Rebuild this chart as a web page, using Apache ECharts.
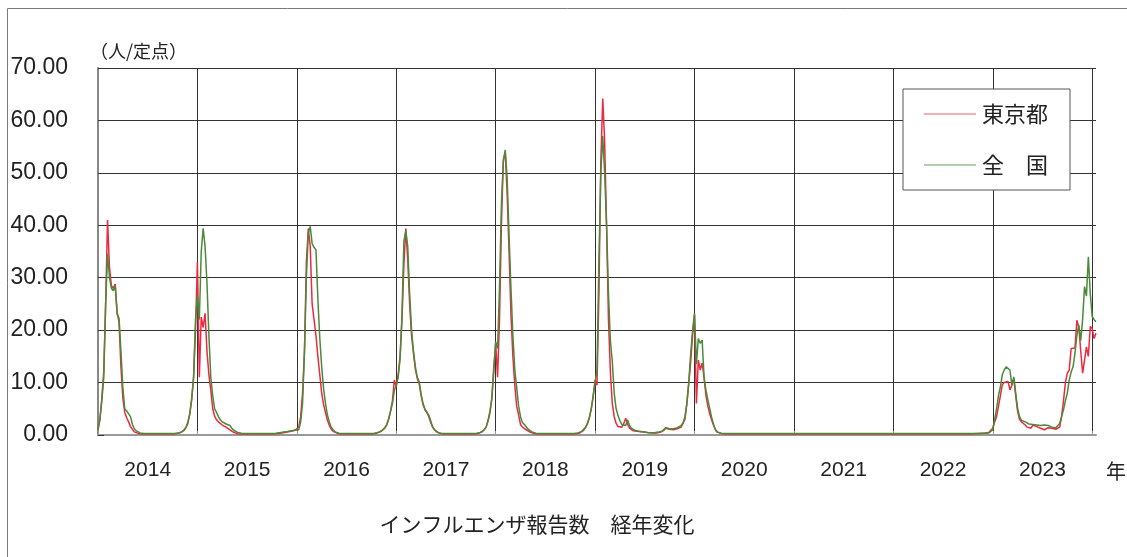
<!DOCTYPE html>
<html>
<head>
<meta charset="utf-8">
<script src="https://cdn.jsdelivr.net/npm/echarts@6/dist/echarts.min.js"></script>
<style>
html,body{margin:0;padding:0;background:#fff;}
#chart{width:1127px;height:557px;}
</style>
</head>
<body>
<div id="chart"></div>
<script>
const years = ['2014','2015','2016','2017','2018','2019','2020','2021','2022','2023'];
const yTicks = [0,10,20,30,40,50,60,70];

const tokyo2014 = [
1.0, 3, 6.5, 11, 25, 41, 32, 28.5, 28, 28.8,
23.5, 21.5, 13, 7, 4.3, 3.3, 2.5, 1.6, 1.1, 0.6,
0.4, 0.3, 0.25, 0.2, 0.2, 0.2, 0.2, 0.2, 0.2, 0.2,
0.2, 0.2, 0.2, 0.2, 0.2, 0.2, 0.2, 0.2, 0.2, 0.2,
0.25, 0.3, 0.35, 0.45, 0.6, 0.9, 1.4, 2.2, 4, 6.7,
11, 20];
const zenkoku2014 = [
1.0, 3, 7, 12, 25, 34.6, 30, 28, 27.5, 28.5,
23, 22.3, 16, 9, 5, 4.6, 4.4, 3.5, 2, 1.2,
0.8, 0.5, 0.4, 0.35, 0.3, 0.3, 0.3, 0.3, 0.3, 0.3,
0.3, 0.3, 0.3, 0.3, 0.3, 0.3, 0.3, 0.3, 0.3, 0.3,
0.3, 0.35, 0.4, 0.5, 0.6, 1.0, 1.5, 2.5, 4, 7,
11, 22];
const tokyo2015 = [
33, 11, 22.5, 20.5, 23.2, 16, 11.5, 8.5, 5, 3.6,
2.9, 2.5, 2.2, 1.9, 1.7, 1.5, 1.4, 1.0, 0.7, 0.5,
0.35, 0.25, 0.2, 0.2, 0.2, 0.2, 0.2, 0.2, 0.2, 0.2,
0.2, 0.2, 0.2, 0.2, 0.2, 0.2, 0.2, 0.2, 0.2, 0.2,
0.2, 0.25, 0.3, 0.35, 0.4, 0.45, 0.5, 0.55, 0.6, 0.7,
0.8, 0.9];
const zenkoku2015 = [
26.5, 22, 35, 39.4, 36, 29, 19, 11, 7.5, 5,
4.3, 3.5, 2.9, 2.5, 2.2, 2.1, 2.3, 1.8, 1.3, 0.9,
0.7, 0.5, 0.4, 0.35, 0.3, 0.3, 0.3, 0.3, 0.3, 0.3,
0.3, 0.3, 0.3, 0.3, 0.3, 0.3, 0.3, 0.3, 0.3, 0.3,
0.3, 0.35, 0.4, 0.45, 0.5, 0.55, 0.6, 0.65, 0.7, 0.8,
0.9, 0.9];
const tokyo2016 = [
1.0, 1.5, 3.5, 8, 16, 33, 39.4, 36, 25, 22,
19, 15, 11.5, 8, 5.8, 4.3, 2.8, 1.8, 1.1, 0.7,
0.5, 0.35, 0.25, 0.2, 0.2, 0.2, 0.2, 0.2, 0.2, 0.2,
0.2, 0.2, 0.2, 0.2, 0.2, 0.2, 0.2, 0.2, 0.2, 0.2,
0.25, 0.3, 0.4, 0.5, 0.7, 1.0, 1.4, 1.9, 3, 4.5,
6.5, 10.5];
const zenkoku2016 = [
0.8, 1.0, 2.5, 6, 16, 30, 38.5, 39.8, 36.5, 35.8,
35.3, 26, 18.5, 13, 8.8, 6, 3.8, 2.5, 1.5, 1.0,
0.6, 0.45, 0.35, 0.3, 0.3, 0.3, 0.3, 0.3, 0.3, 0.3,
0.3, 0.3, 0.3, 0.3, 0.3, 0.3, 0.3, 0.3, 0.3, 0.3,
0.3, 0.35, 0.45, 0.55, 0.7, 1.0, 1.3, 2, 3, 4.5,
6, 8.5];
const tokyo2017 = [
9.2, 11.5, 15, 22, 32.5, 39.4, 33.5, 25, 19, 15.6,
12.5, 10.8, 9.8, 7.5, 5.8, 4.8, 4.3, 3.8, 2.7, 1.6,
1.0, 0.6, 0.45, 0.3, 0.25, 0.2, 0.2, 0.2, 0.2, 0.2,
0.2, 0.2, 0.2, 0.2, 0.2, 0.2, 0.2, 0.2, 0.2, 0.2,
0.2, 0.2, 0.25, 0.3, 0.4, 0.6, 0.9, 1.5, 2.8, 4.5,
7, 13];
const zenkoku2017 = [
9.5, 11, 14.5, 23, 37, 39, 36, 27, 20, 16,
13, 11, 10.2, 7.8, 6, 5, 4.4, 3.5, 2.4, 1.5,
1.0, 0.65, 0.45, 0.35, 0.3, 0.3, 0.3, 0.3, 0.3, 0.3,
0.3, 0.3, 0.3, 0.3, 0.3, 0.3, 0.3, 0.3, 0.3, 0.3,
0.3, 0.3, 0.35, 0.4, 0.5, 0.7, 1.0, 1.5, 2.6, 4.2,
7, 12];
const tokyo2018 = [
17.5, 11, 22, 40, 52.5, 54, 46, 35, 23, 15,
9.5, 5.5, 3.8, 2, 1.5, 1.2, 1.0, 0.75, 0.55, 0.4,
0.3, 0.25, 0.2, 0.2, 0.2, 0.2, 0.2, 0.2, 0.2, 0.2,
0.2, 0.2, 0.2, 0.2, 0.2, 0.2, 0.2, 0.2, 0.2, 0.2,
0.2, 0.2, 0.25, 0.3, 0.4, 0.6, 0.9, 1.4, 2.2, 3.3,
5, 7.3];
const zenkoku2018 = [
17.8, 16.5, 28, 44, 52, 54.4, 49, 38, 28, 19,
12.5, 9, 5.5, 3.5, 2.4, 2, 1.7, 1.1, 0.8, 0.6,
0.45, 0.35, 0.3, 0.3, 0.3, 0.3, 0.3, 0.3, 0.3, 0.3,
0.3, 0.3, 0.3, 0.3, 0.3, 0.3, 0.3, 0.3, 0.3, 0.3,
0.3, 0.3, 0.35, 0.4, 0.5, 0.7, 1.0, 1.5, 2.2, 3.3,
5, 7.5];
const tokyo2019 = [
10.5, 9.5, 27, 52, 64.2, 56, 40, 22, 12, 6,
3.5, 2.2, 1.6, 1.3, 1.5, 2.2, 3.2, 2.0, 1.3, 1.0,
0.8, 0.7, 0.7, 0.65, 0.6, 0.6, 0.55, 0.5, 0.45, 0.4,
0.4, 0.4, 0.4, 0.45, 0.5, 0.6, 0.9, 1.3, 1.2, 1.1,
1.0, 1.0, 1.1, 1.2, 1.3, 1.5, 1.8, 3, 6, 9.9,
14, 19];
const zenkoku2019 = [
10, 12.4, 33, 50, 57, 50, 40, 27, 18, 14,
8, 5, 3.7, 2.7, 2, 1.7, 1.8, 2.9, 1.8, 1.3,
1.0, 0.85, 0.75, 0.7, 0.65, 0.6, 0.55, 0.5, 0.5, 0.45,
0.45, 0.45, 0.5, 0.55, 0.6, 0.7, 1.0, 1.4, 1.3, 1.2,
1.2, 1.2, 1.3, 1.4, 1.5, 1.8, 2.3, 3.5, 6, 10,
15.5, 20];
const tokyo2020 = [
22.9, 6, 14.3, 12.4, 13.7, 11, 7.5, 5.5, 4, 2.8,
1.8, 1.0, 0.6, 0.4, 0.3, 0.25, 0.2, 0.2, 0.2, 0.2,
0.2, 0.2, 0.2, 0.2, 0.2, 0.2, 0.2, 0.2, 0.2, 0.2,
0.2, 0.2, 0.2, 0.2, 0.2, 0.2, 0.2, 0.2, 0.2, 0.2,
0.2, 0.2, 0.2, 0.2, 0.2, 0.2, 0.2, 0.2, 0.2, 0.2,
0.2, 0.2];
const zenkoku2020 = [
23.2, 13.5, 18.4, 17.5, 18.1, 11, 8.5, 6.7, 5, 3.3,
2, 0.9, 0.5, 0.4, 0.35, 0.3, 0.3, 0.3, 0.3, 0.3,
0.3, 0.3, 0.3, 0.3, 0.3, 0.3, 0.3, 0.3, 0.3, 0.3,
0.3, 0.3, 0.3, 0.3, 0.3, 0.3, 0.3, 0.3, 0.3, 0.3,
0.3, 0.3, 0.3, 0.3, 0.3, 0.3, 0.3, 0.3, 0.3, 0.3,
0.3, 0.3];
const tokyo2021 = [
0.2, 0.2, 0.2, 0.2, 0.2, 0.2, 0.2, 0.2, 0.2, 0.2,
0.2, 0.2, 0.2, 0.2, 0.2, 0.2, 0.2, 0.2, 0.2, 0.2,
0.2, 0.2, 0.2, 0.2, 0.2, 0.2, 0.2, 0.2, 0.2, 0.2,
0.2, 0.2, 0.2, 0.2, 0.2, 0.2, 0.2, 0.2, 0.2, 0.2,
0.2, 0.2, 0.2, 0.2, 0.2, 0.2, 0.2, 0.2, 0.2, 0.2,
0.2, 0.2];
const zenkoku2021 = [
0.3, 0.3, 0.3, 0.3, 0.3, 0.3, 0.3, 0.3, 0.3, 0.3,
0.3, 0.3, 0.3, 0.3, 0.3, 0.3, 0.3, 0.3, 0.3, 0.3,
0.3, 0.3, 0.3, 0.3, 0.3, 0.3, 0.3, 0.3, 0.3, 0.3,
0.3, 0.3, 0.3, 0.3, 0.3, 0.3, 0.3, 0.3, 0.3, 0.3,
0.3, 0.3, 0.3, 0.3, 0.3, 0.3, 0.3, 0.3, 0.3, 0.3,
0.3, 0.3];
const tokyo2022 = [
0.2, 0.2, 0.2, 0.2, 0.2, 0.2, 0.2, 0.2, 0.2, 0.2,
0.2, 0.2, 0.2, 0.2, 0.2, 0.2, 0.2, 0.2, 0.2, 0.2,
0.2, 0.2, 0.2, 0.2, 0.2, 0.2, 0.2, 0.2, 0.2, 0.2,
0.2, 0.2, 0.2, 0.2, 0.2, 0.2, 0.2, 0.2, 0.2, 0.2,
0.2, 0.2, 0.25, 0.25, 0.3, 0.3, 0.35, 0.35, 0.4, 0.45,
0.5, 0.7];
const zenkoku2022 = [
0.3, 0.3, 0.3, 0.3, 0.3, 0.3, 0.3, 0.3, 0.3, 0.3,
0.3, 0.3, 0.3, 0.3, 0.3, 0.3, 0.3, 0.3, 0.3, 0.3,
0.3, 0.3, 0.3, 0.3, 0.3, 0.3, 0.3, 0.3, 0.3, 0.3,
0.3, 0.3, 0.3, 0.3, 0.3, 0.3, 0.3, 0.3, 0.3, 0.3,
0.3, 0.3, 0.3, 0.3, 0.3, 0.3, 0.3, 0.3, 0.35, 0.35,
0.4, 0.5];
const tokyo2023 = [
1.3, 2.5, 3.5, 5.5, 7.5, 9.6, 10, 10.2, 10.2, 8.6,
9.5, 10.8, 7.5, 4.5, 3, 2.5, 2.2, 1.9, 1.5, 1.2,
1.3, 1.9, 1.7, 1.6, 1.4, 1.3, 1.1, 1.0, 1.3, 1.4,
1.3, 1.3, 1.2, 1.1, 1.0, 1.5, 3.5, 6.5, 10, 11.8,
12.4, 16.5, 16.5, 16.6, 21.9, 20.5, 20.4, 11.8, 14.3, 16.8,
15, 20.7, 20.3, 18.4, 19.4];
const zenkoku2023 = [
1.0, 3, 5, 7.5, 9.2, 11.5, 12.4, 13, 12.8, 12.4,
9.5, 11.1, 8, 5, 3.5, 2.8, 2.5, 2.5, 2.4, 2.1,
1.9, 2.0, 2.0, 1.9, 1.9, 1.8, 1.8, 1.9, 1.9, 1.8,
1.6, 1.5, 1.5, 1.4, 1.4, 2.2, 3.5, 4.8, 6.5, 8,
10.5, 12, 13, 15.6, 19, 21, 18, 22, 28.3, 26.5,
34, 27, 22.6, 22, 21.6];

const tokyoBlocks = [tokyo2014, tokyo2015, tokyo2016, tokyo2017, tokyo2018, tokyo2019, tokyo2020, tokyo2021, tokyo2022, tokyo2023];
const zenkokuBlocks = [zenkoku2014, zenkoku2015, zenkoku2016, zenkoku2017, zenkoku2018, zenkoku2019, zenkoku2020, zenkoku2021, zenkoku2022, zenkoku2023];

const weeks = [];
tokyoBlocks.forEach((blk, b) => { blk.forEach((v, w) => weeks.push(years[b] + '-' + (w + 1))); });
const tokyo = [].concat(...tokyoBlocks);
const zenkoku = [].concat(...zenkokuBlocks);
const PER = 52;

const chart = echarts.init(document.getElementById('chart'), null, {renderer: 'canvas'});
const jp = '"Noto Sans CJK JP", sans-serif';
chart.setOption({
  animation: false,
  backgroundColor: '#fff',
  grid: {left: 98, right: 31, top: 68, bottom: 122, containLabel: false},
  xAxis: {
    type: 'category',
    data: weeks,
    boundaryGap: false,
    axisLine: {show: true, lineStyle: {color: '#999', width: 2}},
    axisTick: {show: true, inside: true, length: 4, interval: (i) => i % PER === 0, lineStyle: {color: '#999'}},
    axisLabel: {
      interval: (i) => i % PER === 26,
      formatter: (v) => v.slice(0, 4),
      color: '#222', fontSize: 21, fontFamily: '"Liberation Sans", Arial, sans-serif', margin: 25
    },
    splitLine: {show: true, interval: (i) => i % PER === 0, lineStyle: {color: '#333', width: 1}}
  },
  yAxis: {
    type: 'value', min: yTicks[0], max: yTicks[yTicks.length - 1], interval: 10,
    axisLine: {show: true, lineStyle: {color: '#888', width: 2}},
    axisTick: {show: true, inside: true, length: 6, lineStyle: {color: '#333'}},
    axisLabel: {formatter: (v) => v.toFixed(2), color: '#222', fontSize: 23, fontFamily: '"Liberation Sans", Arial, sans-serif', margin: 30},
    splitLine: {show: true, lineStyle: {color: '#333', width: 1}}
  },
  legend: {
    orient: 'vertical', left: 903, top: 89,
    padding: [13, 22, 13, 21],
    itemGap: 27, itemWidth: 52, itemHeight: 1.2,
    icon: 'rect',
    borderColor: '#555', borderWidth: 1, backgroundColor: '#fff',
    textStyle: {fontSize: 22, lineHeight: 24, color: '#222', fontFamily: jp, padding: [0, 0, 0, 1]},
    data: ['東京都', '全　国']
  },
  series: [
    {name: '東京都', type: 'line', data: tokyo, symbol: 'none', lineStyle: {color: '#ee2840', width: 1.5}, itemStyle: {color: '#f0606c'}},
    {name: '全　国', type: 'line', data: zenkoku, symbol: 'none', lineStyle: {color: '#4a8a3a', width: 1.5}, itemStyle: {color: '#6a9a60'}}
  ],
  graphic: [
    {type: 'rect', z: -10, shape: {x: 7.5, y: 8.5, width: 1140, height: 570}, style: {fill: 'none', stroke: '#7a7a7a', lineWidth: 1}},
    {type: 'text', x: 90, y: 51, style: {text: '（人/定点）', font: '18px "Noto Sans CJK JP", sans-serif', fill: '#222', textVerticalAlign: 'middle'}},
    {type: 'text', x: 1106, y: 471, style: {text: '年', font: '20px "Noto Sans CJK JP", sans-serif', fill: '#222', textVerticalAlign: 'middle'}},
    {type: 'text', x: 537, y: 524, style: {text: 'インフルエンザ報告数　経年変化', font: '21px "Noto Sans CJK JP", sans-serif', fill: '#222', textAlign: 'center', textVerticalAlign: 'middle'}}
  ]
});
</script>
</body>
</html>
